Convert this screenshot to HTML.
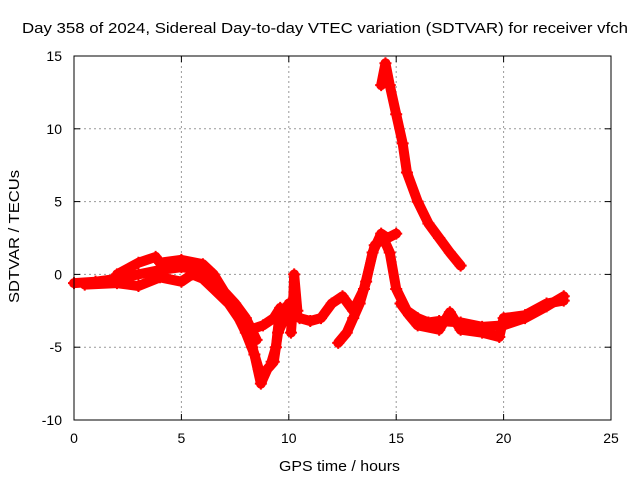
<!DOCTYPE html>
<html><head><meta charset="utf-8"><style>
body{margin:0;background:#fff;}
svg{display:block;font-family:"Liberation Sans",sans-serif;}
</style></head><body>
<svg id="chart" width="640" height="480">
<text x="22" y="33" font-size="15" textLength="606" lengthAdjust="spacingAndGlyphs">Day 358 of 2024, Sidereal Day-to-day VTEC variation (SDTVAR) for receiver vfch</text>
<text x="279" y="471" font-size="15" textLength="121" lengthAdjust="spacingAndGlyphs">GPS time / hours</text>
<text transform="translate(19,303) rotate(-90)" font-size="15" textLength="133" lengthAdjust="spacingAndGlyphs">SDTVAR / TECUs</text>
<g id="grid"></g><g id="series"></g>
<rect x="74" y="56" width="537" height="364" fill="none" stroke="#000" stroke-width="1"/>
<g id="ticks"></g>
</svg>
<script>
const xTicks=[0,5,10,15,20,25];
const yTicks=[-10,-5,0,5,10,15];
const traceMain=[[0,-0.6],[1,-0.5],[2,-0.3],[3,0],[4,0.3],[5,0.5],[6,0.3],[6.5,-0.5],[7,-1.5],[7.5,-2.5],[8,-4],[8.4,-5.5],[8.7,-7.5],[9,-6.5],[9.3,-6],[9.5,-4],[9.8,-3],[10,-2],[10.5,-3],[11,-3.2],[11.5,-3],[12,-2],[12.5,-1.5],[13,-2.5],[13.5,-1],[14,2],[14.4,2.5],[14.7,1.5],[15,-1],[15.5,-2.5],[16,-3],[16.5,-3.3],[17,-3.2],[18,-3.3],[19,-3.6],[20,-3.5],[21,-3],[22,-2.2],[22.8,-1.5]];
const traceUpperBand=[[2,0],[3,0.8],[3.8,1.2],[4,0.8],[5,1],[6,0.7],[6.5,0],[7,-1.2],[7.5,-2],[8,-3],[8.5,-4.5]];
const traceLowerBand=[[0.5,-0.7],[2,-0.6],[3,-0.8],[4,-0.2],[5,-0.5],[5.5,0],[6,-0.3],[6.5,-1],[7.2,-2],[7.8,-3.3],[8.3,-5],[8.6,-6.5]];
const traceBranch=[[8.2,-3.8],[8.8,-3.5],[9.3,-3],[9.6,-2.3],[9.4,-5],[9.2,-6]];
const traceSpike=[[10.1,-4],[10.2,-2],[10.25,0],[10.4,-2.5]];
const traceDrop=[[12.3,-4.7],[12.7,-4],[13,-3],[13.3,-2],[13.6,-0.5],[13.9,1.5],[14.3,2.8],[14.6,2.5],[15,2.8]];
const traceRight=[[15.2,-2],[15.6,-2.8],[16,-3.5],[17,-3.8],[17.5,-2.6],[18,-3.8],[19,-4],[19.8,-4.3],[20,-3],[21,-2.8],[22,-2],[22.8,-1.8]];
const traceHigh=[[14.3,13],[14.5,14.5],[14.7,13],[15,11],[15.3,9],[15.5,7],[16,5],[16.5,3.5],[17,2.5],[17.5,1.5],[18,0.6]];
const traces=[traceMain,traceUpperBand,traceLowerBand,traceBranch,traceSpike,traceDrop,traceRight,traceHigh];
const X=v=>74+v*537/25, Y=v=>420-(v+10)*364/25;
const ns='http://www.w3.org/2000/svg';
const g=document.getElementById('grid'),t=document.getElementById('ticks'),s=document.getElementById('series');
function mk(tag,attrs,parent){const e=document.createElementNS(ns,tag);for(const k in attrs)e.setAttribute(k,attrs[k]);parent.appendChild(e);return e;}
xTicks.forEach(v=>{const x=X(v);
 if(v>0&&v<25){const l=mk('line',{x1:x,x2:x,y1:56,y2:420,stroke:'#999','stroke-dasharray':'2,3'},g);
 
 }
 mk('line',{x1:x,x2:x,y1:420,y2:414,stroke:'#000'},t);mk('line',{x1:x,x2:x,y1:56,y2:62,stroke:'#000'},t);
 const tx=mk('text',{x:x,y:443,'font-size':14,'text-anchor':'middle'},t);tx.textContent=v;
 
 });
yTicks.forEach(v=>{const y=Y(v);
 if(v>-10&&v<15){const l=mk('line',{x1:74,x2:611,y1:y,y2:y,stroke:'#999','stroke-dasharray':'2,3'},g);
 
 }
 mk('line',{x1:74,x2:80,y1:y,y2:y,stroke:'#000'},t);mk('line',{x1:611,x2:605,y1:y,y2:y,stroke:'#000'},t);
 const tx=mk('text',{x:62,y:y+5,'font-size':14,'text-anchor':'end'},t);tx.textContent=v;
 
 });
traces.forEach(tr=>{
 const p=mk('polyline',{points:tr.map(d=>X(d[0])+','+Y(d[1])).join(' '),fill:'none',stroke:'#f00','stroke-width':10,'stroke-linejoin':'round','stroke-linecap':'round'},s);
 
 
 tr.forEach(d=>{const x=X(d[0]),y=Y(d[1]);
  const m=mk('path',{d:`M${x-6},${y}h12M${x},${y-6}v12`,stroke:'#f00','stroke-width':2},s);
  
  });
});
</script>
</body></html>
